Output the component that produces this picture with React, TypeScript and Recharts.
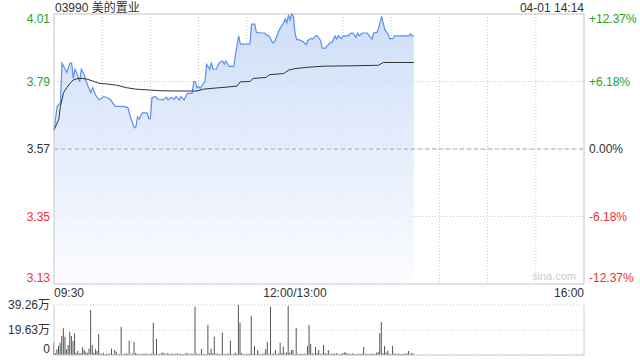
import React from 'react'
import {
  ComposedChart,
  Area,
  Line,
  Bar,
  XAxis,
  YAxis,
  CartesianGrid,
  ReferenceLine,
} from 'recharts'

// minutes since 09:30 (lunch break removed: 150 = 12:00/13:00, 330 = 16:00)
const priceMinutes = [
  0, 2, 4, 5, 7, 8, 10, 11, 12, 13, 14, 16, 17, 19, 20, 22, 23, 24, 26, 28,
  31, 33, 35, 38, 44, 46, 48, 50, 51, 52, 53, 55, 58, 59, 60, 61, 63, 65, 68, 70,
  71, 73, 75, 76, 78, 79, 81, 83, 86, 87, 88, 89, 90, 91, 93, 94, 95, 97, 98, 99,
  101, 103, 105, 106, 107, 109, 112, 113, 115, 116, 120, 122, 123, 125, 126, 128, 131, 133, 134, 136,
  137, 138, 140, 142, 143, 144, 145, 146, 147, 148, 149, 150, 151, 153, 155, 157, 158, 160, 161, 163,
  164, 166, 167, 169, 170, 172, 173, 175, 176, 177, 179, 180, 183, 185, 186, 188, 189, 190, 192, 195,
  196, 198, 199, 201, 202, 203, 204, 205, 206, 208, 209, 211, 212, 215, 220, 221, 222, 223, 224,
]
const prices = [
  3.63, 3.71, 3.72, 3.85, 3.83, 3.82, 3.85, 3.85, 3.8, 3.83, 3.82, 3.79, 3.83, 3.81, 3.79, 3.765, 3.754, 3.77, 3.745, 3.73,
  3.741, 3.738, 3.732, 3.71, 3.708, 3.705, 3.667, 3.639, 3.643, 3.675, 3.667, 3.688, 3.688, 3.669, 3.669, 3.737, 3.741, 3.732, 3.73, 3.739,
  3.73, 3.738, 3.732, 3.741, 3.73, 3.741, 3.73, 3.751, 3.751, 3.789, 3.789, 3.77, 3.774, 3.767, 3.784, 3.789, 3.846, 3.83, 3.852, 3.83,
  3.83, 3.852, 3.857, 3.846, 3.857, 3.839, 3.839, 3.879, 3.939, 3.912, 3.912, 3.912, 3.977, 3.977, 3.95, 3.948, 3.948, 3.939, 3.939, 3.917,
  3.917, 3.928, 3.955, 3.974, 3.981, 3.994, 3.981, 4.007, 3.99, 4.01, 4.004, 3.95, 3.928, 3.925, 3.92, 3.91, 3.923, 3.93, 3.928, 3.939,
  3.939, 3.923, 3.899, 3.899, 3.906, 3.917, 3.917, 3.939, 3.928, 3.939, 3.93, 3.939, 3.939, 3.948, 3.948, 3.934, 3.948, 3.939, 3.948, 3.948,
  3.941, 3.928, 3.948, 3.95, 3.961, 3.983, 4.002, 3.98, 3.959, 3.945, 3.93, 3.93, 3.939, 3.939, 3.939, 3.939, 3.946, 3.939, 3.939,
]

const avgMinutes = [
  0, 3, 4, 6, 8, 10, 12, 15, 18, 21, 24, 28, 33, 39, 45, 51, 60, 66, 75, 89,
  93, 99, 108, 114, 116, 122, 124, 132, 134, 143, 146, 150, 157, 168, 184, 202, 205, 224,
]
const avgPrices = [
  3.632, 3.667, 3.71, 3.754, 3.77, 3.784, 3.795, 3.8, 3.8, 3.797, 3.792, 3.784, 3.782, 3.778, 3.77, 3.765, 3.762, 3.76, 3.759, 3.759,
  3.765, 3.768, 3.772, 3.775, 3.789, 3.79, 3.8, 3.803, 3.812, 3.816, 3.827, 3.832, 3.836, 3.84, 3.841, 3.843, 3.852, 3.852,
]

// volume per minute, in 万
const volumes = [
  9.7, 1.5, 4.5, 7, 9.7, 14.9, 21, 14.4, 4.5, 7.9, 18.3, 14.9, 11, 17, 1.8,
  3.4, 1.2, 1.8, 6, 3.9, 2.6, 1.5, 5.2, 35.3, 7.9, 1.8, 4.5, 3.1, 16.5, 1.2,
  0.8, 1.5, 0.6, 1.0, 0.9, 1.2, 5.2, 0.8, 3.9, 2.6, 0.7, 1.0, 22.2, 0.6, 0.9,
  1.3, 0.8, 11.2, 0.7, 0.9, 10.2, 1.5, 1.2, 0.6, 0.8, 1.0, 0.7, 1.1, 0.9, 0.6,
  0.8, 1.2, 25.4, 0.9, 12.6, 1.0, 0.7, 1.4, 2.0, 1.1, 0.8, 1.5, 0.9, 0.7, 1.2,
  0.6, 0.9, 1.3, 0.8, 1.0, 0.7, 0.5, 1.2, 1.6, 0.9, 0.8, 1.1, 0.7, 37.9, 1.2,
  0.8, 0.9, 4.7, 1.0, 0.6, 0.8, 23.8, 1.5, 5.0, 1.3, 14.4, 0.9, 1.1, 0.7, 0.8,
  17.5, 1.0, 0.6, 0.9, 1.2, 11.2, 0.8, 0.7, 2.0, 0.9, 39.26, 25.4, 1.5, 0.8, 0.6,
  0.9, 1.0, 0.7, 30.9, 1.2, 7.1, 0.8, 3.9, 1.0, 0.6, 0.9, 1.3, 4.5, 10.2, 0.8,
  37.9, 0.9, 1.1, 3.9, 0.7, 1.2, 9.7, 1.5, 6.5, 1.0, 2.0, 38.5, 1.8, 3.9, 3.9,
  0.8, 21.2, 1.0, 0.7, 0.9, 0.6, 1.1, 0.8, 7.1, 23.6, 8.6, 1.2, 0.9, 6.3, 1.5,
  3.9, 0.8, 1.0, 7.9, 1.6, 0.9, 3.9, 1.0, 0.7, 1.2, 0.9, 1.5, 0.8, 0.6, 1.0,
  1.4, 2.2, 1.8, 0.9, 1.1, 0.7, 1.3, 0.8, 0.6, 1.0, 0.9, 0.7, 1.2, 6.3, 0.8,
  0.9, 0.6, 0.8, 1.1, 0.7, 1.0, 1.8, 2.5, 17, 25.9, 1.4, 7.1, 2.0, 3.4, 1.0,
  0.8, 7.1, 1.1, 0.9, 0.7, 1.2, 0.8, 0.6, 1.0, 0.9, 1.3, 3.1, 0.8, 1.5, 1.0,
]

const priceTicks = [3.13, 3.35, 3.57, 3.79, 4.01]
const pctLabels = ['-12.37%', '-6.18%', '0.00%', '+6.18%', '+12.37%']
const minuteTicks = [0, 30, 60, 90, 120, 150, 180, 210, 240, 270, 300, 330]
const timeLabels: Record<number, string> = { 0: '09:30', 150: '12:00/13:00', 330: '16:00' }
const volTicks = [0, 19.63, 39.26]
const volLabels = ['0', '19.63万', '39.26万']

const PREV_CLOSE = 3.57
const GREEN = '#1ea51e'
const RED = '#f0302f'
const FONT = '"Liberation Sans", Arial, "Noto Sans CJK SC", sans-serif'

const priceData = priceMinutes.map((t, i) => ({ t, price: prices[i] }))
const avgData = avgMinutes.map((t, i) => ({ t, avg: avgPrices[i] }))
const volData = volumes.map((v, t) => ({ t, vol: v }))

function colorFor(v: number) {
  if (Math.abs(v - PREV_CLOSE) < 1e-6) return '#333'
  return v > PREV_CLOSE ? GREEN : RED
}

function edgeShift(i: number, n: number) {
  if (i === n - 1) return 5
  if (i === 0) return -6
  return 0
}

function PriceTick({ x, y, payload, index }: any) {
  const v = payload.value
  return (
    <text x={x} y={y + edgeShift(index, priceTicks.length)} dy={4} textAnchor="end" fontSize={12} fill={colorFor(v)}>
      {v.toFixed(2)}
    </text>
  )
}

function PctTick({ x, y, payload, index }: any) {
  const v = payload.value
  return (
    <text x={x} y={y + edgeShift(index, priceTicks.length)} dy={4} textAnchor="start" fontSize={12} fill={colorFor(v)}>
      {pctLabels[index]}
    </text>
  )
}

function TimeTick({ x, y, payload }: any) {
  const label = timeLabels[payload.value]
  if (!label) return null
  const anchor = payload.value === 0 ? 'start' : payload.value === 330 ? 'end' : 'middle'
  return (
    <text x={x} y={y} dy={5} textAnchor={anchor} fontSize={12} fill="#333">
      {label}
    </text>
  )
}

function VolTick({ x, y, index }: any) {
  return (
    <text x={x} y={index === 0 ? y - 6 : y} dy={4} textAnchor="end" fontSize={12} fill="#333">
      {volLabels[index]}
    </text>
  )
}

export default function App() {
  return (
    <div style={{ position: 'relative', width: 640, height: 360, background: '#fff', fontFamily: FONT }}>
      <style>{'body{margin:0}'}</style>
      <div style={{ position: 'absolute', left: 55, top: 1, fontSize: 12, color: '#333', lineHeight: '14px' }}>
        03990 美的置业
      </div>
      <div style={{ position: 'absolute', right: 56, top: 1, fontSize: 12, color: '#333', lineHeight: '14px' }}>
        04-01 14:14
      </div>

      <div style={{ position: 'absolute', left: 0, top: 0 }}>
        <ComposedChart width={640} height={300} margin={{ top: 14, right: 0, bottom: 0, left: 0 }}>
          <defs>
            <linearGradient id="priceFill" x1="0" y1="0" x2="0" y2="1">
              <stop offset="0%" stopColor="#c6d9f7" stopOpacity={1} />
              <stop offset="55%" stopColor="#e3ecfb" stopOpacity={1} />
              <stop offset="100%" stopColor="#fbfcff" stopOpacity={1} />
            </linearGradient>
          </defs>
          <CartesianGrid yAxisId="left" stroke="#c8c8c8" strokeDasharray="1 2" />
          <XAxis
            dataKey="t"
            type="number"
            domain={[0, 330]}
            ticks={minuteTicks}
            height={16}
            tickLine={false}
            axisLine={{ stroke: '#ccc' }}
            tick={<TimeTick />}
            interval={0}
          />
          <YAxis
            yAxisId="left"
            domain={[3.13, 4.01]}
            ticks={priceTicks}
            width={54}
            tickLine={false}
            tickSize={4}
            tickMargin={0}
            axisLine={{ stroke: '#ccc' }}
            tick={<PriceTick />}
            interval={0}
          />
          <YAxis
            yAxisId="right"
            orientation="right"
            domain={[3.13, 4.01]}
            ticks={priceTicks}
            width={56}
            tickLine={false}
            tickSize={5}
            tickMargin={0}
            axisLine={{ stroke: '#ccc' }}
            tick={<PctTick />}
            interval={0}
          />
          <Area
            yAxisId="left"
            data={priceData}
            dataKey="price"
            type="linear"
            stroke="none"
            fill="url(#priceFill)"
            fillOpacity={0.85}
            dot={false}
            activeDot={false}
            isAnimationActive={false}
          />
          <ReferenceLine yAxisId="left" y={4.01} stroke="#ccc" />
          <ReferenceLine yAxisId="left" y={3.57} stroke="#aaa" strokeDasharray="4 3" />
          <Line
            yAxisId="left"
            data={priceData}
            dataKey="price"
            type="linear"
            stroke="#5b8ff0"
            strokeWidth={1.2}
            dot={false}
            activeDot={false}
            isAnimationActive={false}
          />
          <Line
            yAxisId="left"
            data={avgData}
            dataKey="avg"
            type="linear"
            stroke="#333"
            strokeWidth={1}
            dot={false}
            activeDot={false}
            isAnimationActive={false}
          />
          <Line
            yAxisId="right"
            data={avgData}
            dataKey="avg"
            stroke="none"
            dot={false}
            activeDot={false}
            isAnimationActive={false}
          />
        </ComposedChart>
      </div>

      <div style={{ position: 'absolute', left: 532, top: 270, fontSize: 11, color: '#ccc' }}>sina.com</div>

      <div style={{ position: 'absolute', left: 0, top: 290 }}>
        <ComposedChart width={640} height={70} data={volData} margin={{ top: 15, right: 56, bottom: 5, left: 0 }}>
          <CartesianGrid stroke="#c8c8c8" strokeDasharray="1 2" vertical={false} />
          <XAxis dataKey="t" type="number" domain={[0, 330]} hide />
          <YAxis
            domain={[0, 39.26]}
            ticks={volTicks}
            width={54}
            tickLine={false}
            tickSize={4}
            tickMargin={0}
            axisLine={{ stroke: '#ccc' }}
            tick={<VolTick />}
            interval={0}
          />
          <ReferenceLine x={330} stroke="#ccc" />
          <ReferenceLine y={0} stroke="#ccc" />
          <Bar dataKey="vol" fill="#555" barSize={1} isAnimationActive={false} />
        </ComposedChart>
      </div>
    </div>
  )
}
